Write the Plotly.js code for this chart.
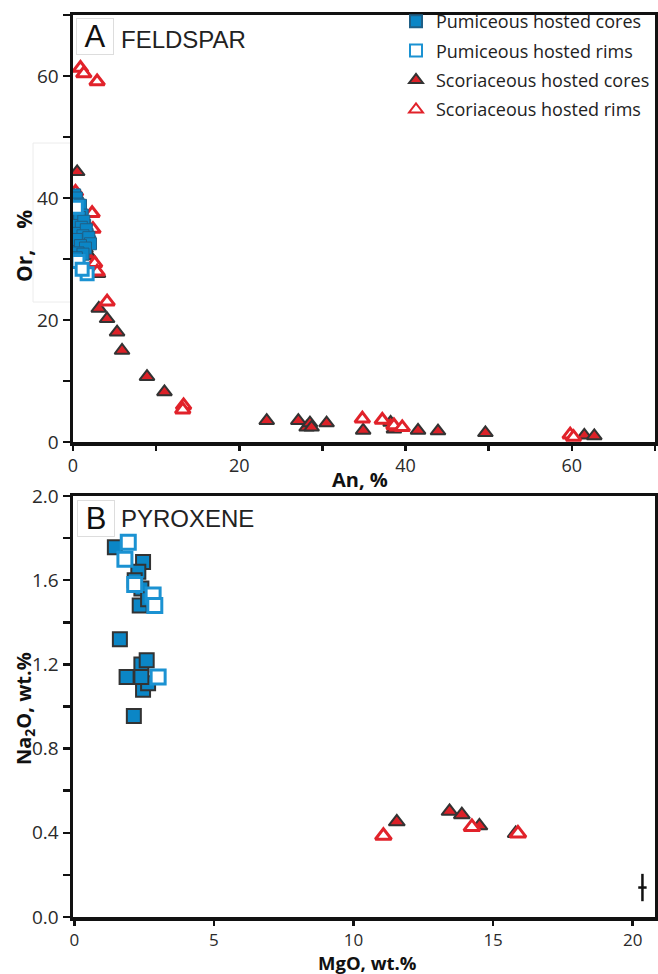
<!DOCTYPE html>
<html>
<head>
<meta charset="utf-8">
<script src="https://cdn.plot.ly/plotly-3.0.1.min.js"></script>
<style>html,body{margin:0;padding:0;background:#fff;}#chart{width:658px;height:974px;}</style>
</head>
<body>
<div id="chart"></div>
<script>
// ---------- Panel A: FELDSPAR (An %, Or %) ----------
const fspPumCoresAn = [0.3, 0.5, 0.7, 0.4, 0.9, 0.6, 1.2, 0.8, 1.5, 1.0, 0.5, 0.7, 1.7, 1.4, 0.3, 1.1, 2.0, 1.8,
  0.2, 0.4, 0.6, 0.3, 0.9, 0.5, 1.1, 0.8, 0.3, 1.3, 1.0, 0.6, 1.6, 1.2, 0.4, 1.9, 2.1, 0.9, 1.5, 0.6, 1.2, 0.4];
const fspPumCoresOr = [39.5, 38.5, 37.8, 36.5, 36.0, 35.0, 34.5, 33.5, 33.0, 32.5, 31.5, 30.5, 34.0, 35.5, 37.0, 31.0, 32.8, 33.6,
  40.5, 40.0, 39.0, 38.0, 38.8, 37.3, 37.2, 36.8, 35.5, 36.2, 35.2, 34.2, 34.8, 33.8, 33.2, 33.5, 32.5, 32.2, 31.8, 31.0, 30.8, 30.2];
const fspPumRimsAn = [0.6, 1.7, 1.1, 0.4];
const fspPumRimsOr = [29.6, 27.6, 28.3, 38.5];
const fspScoCoresAn = [0.5, 0.3, 0.8, 1.2, 1.5, 2.0, 3.0, 3.1, 4.1, 5.3, 5.9, 8.9, 11.0, 23.3, 27.1, 28.1, 28.5, 28.7, 30.5, 34.9, 38.2, 38.6, 41.5, 43.9, 49.6, 61.5, 62.7];
const fspScoCoresOr = [44.3, 40.5, 38.0, 36.0, 31.7, 30.5, 27.6, 21.9, 20.2, 18.0, 15.0, 10.7, 8.2, 3.5, 3.5, 2.4, 3.1, 2.4, 3.1, 1.9, 3.2, 2.1, 1.9, 1.8, 1.5, 1.1, 1.0];
const fspScoRimsAn = [0.9, 1.3, 2.9, 2.3, 2.4, 2.6, 2.9, 4.1, 13.3, 13.2, 34.8, 37.2, 38.6, 39.6, 59.8, 60.2, 0.3];
const fspScoRimsOr = [61.3, 60.4, 59.1, 37.5, 34.9, 29.3, 27.9, 23.0, 6.0, 5.3, 3.8, 3.6, 2.7, 2.4, 1.2, 0.8, 41.0];

// ---------- Panel B: PYROXENE (MgO wt.%, Na2O wt.%) ----------
const pxPumCoresMgO = [1.45, 1.63, 1.87, 2.13, 2.40, 2.59, 2.46, 2.64, 2.40, 2.46, 2.29, 2.40, 2.34, 2.64, 2.16];
const pxPumCoresNa2O = [1.757, 1.32, 1.14, 0.955, 1.20, 1.22, 1.08, 1.11, 1.14, 1.686, 1.64, 1.56, 1.48, 1.51, 1.60];
const pxPumRimsMgO = [1.93, 1.81, 2.16, 2.82, 2.88, 3.0];
const pxPumRimsNa2O = [1.78, 1.70, 1.58, 1.53, 1.48, 1.14];
const pxScoCoresMgO = [11.55, 13.44, 13.88, 14.51, 15.81];
const pxScoCoresNa2O = [0.452, 0.502, 0.486, 0.433, 0.397];
const pxScoRimsMgO = [11.07, 14.24, 15.89];
const pxScoRimsNa2O = [0.386, 0.428, 0.397];
// representative analytical error
const errMgO = [20.35], errNa2O = [0.14], errMgOSize = [0.15], errNa2OSize = [0.065];

// ---------- tick labels ----------
const fspTickVals = [0, 10, 20, 30, 40, 50, 60, 70];
const fspTickText = ['0', '', '20', '', '40', '', '60', ''];
const naTickVals = [0, 0.2, 0.4, 0.6, 0.8, 1.0, 1.2, 1.4, 1.6, 1.8, 2.0];
const naTickText = ['0.0', '', '0.4', '', '0.8', '', '1.2', '', '1.6', '', '2.0'];
const mgTickVals = [0, 5, 10, 15, 20];
const mgTickText = ['0', '5', '10', '15', '20'];

const seriesNames = ['Pumiceous hosted cores', 'Pumiceous hosted rims', 'Scoriaceous hosted cores', 'Scoriaceous hosted rims'];

const BLUE = '#0b86c6', BLUE_RIM = '#1b92d2', RED = '#dc2128', RED_RIM = '#e1222a', DARK = '#333333';
const styles = {
  pc: {symbol: 'square', color: BLUE, line: {color: DARK, width: 2}},
  pr: {symbol: 'square', color: '#ffffff', line: {color: BLUE_RIM, width: 3}},
  sc: {symbol: 'triangle-up', color: RED, line: {color: DARK, width: 2}},
  sr: {symbol: 'triangle-up', color: '#ffffff', line: {color: RED_RIM, width: 3}}
};
function tr(x, y, key, name, rank, xa, ya, size, legend, lineOverride) {
  const s = styles[key];
  return {
    x: x, y: y, type: 'scatter', mode: 'markers', name: name, legendgroup: key,
    legendrank: rank, showlegend: legend, xaxis: xa, yaxis: ya, hoverinfo: 'x+y',
    marker: {symbol: s.symbol, size: size, color: s.color, line: lineOverride || s.line}
  };
}

const data = [
  tr(fspScoCoresAn, fspScoCoresOr, 'sc', seriesNames[2], 3, 'x', 'y', 13, true),
  tr(fspScoRimsAn, fspScoRimsOr, 'sr', seriesNames[3], 4, 'x', 'y', 13, true),
  tr(fspPumCoresAn, fspPumCoresOr, 'pc', seriesNames[0], 1, 'x', 'y', 12, true, {color: '#1f5f86', width: 1}),
  tr(fspPumRimsAn, fspPumRimsOr, 'pr', seriesNames[1], 2, 'x', 'y', 12, true),
  tr(pxScoCoresMgO, pxScoCoresNa2O, 'sc', seriesNames[2], 3, 'x2', 'y2', 14, false),
  tr(pxScoRimsMgO, pxScoRimsNa2O, 'sr', seriesNames[3], 4, 'x2', 'y2', 14, false),
  tr(pxPumCoresMgO, pxPumCoresNa2O, 'pc', seriesNames[0], 1, 'x2', 'y2', 14, false),
  tr(pxPumRimsMgO, pxPumRimsNa2O, 'pr', seriesNames[1], 2, 'x2', 'y2', 14, false),
  {
    x: errMgO, y: errNa2O, type: 'scatter', mode: 'markers', showlegend: false, hoverinfo: 'skip',
    xaxis: 'x2', yaxis: 'y2', marker: {size: 1, color: 'rgba(0,0,0,0)'},
    error_x: {type: 'data', array: errMgOSize, width: 0, thickness: 2.5, color: '#111'},
    error_y: {type: 'data', array: errNa2OSize, width: 0, thickness: 2.5, color: '#111'}
  }
];

const tickFont = {family: 'Open Sans, sans-serif', size: 19, color: '#2a2a2a'};
const xTickFont = {family: 'Open Sans, sans-serif', size: 18, color: '#2a2a2a'};
const x2TickFont = {family: 'Open Sans, sans-serif', size: 17, color: '#2a2a2a'};
const titleFont = {family: 'Open Sans, sans-serif', size: 20, color: '#111', weight: 'bold'};
function axis(extra) {
  return Object.assign({
    showgrid: false, zeroline: false, showline: true, linecolor: '#111', linewidth: 3.5,
    mirror: true, ticks: 'outside', ticklen: 7, tickwidth: 2.5, tickcolor: '#111',
    tickmode: 'array', tickfont: tickFont, automargin: false, fixedrange: true
  }, extra);
}
// pixel -> paper helpers (plot area: x 73..655, y 15..917)
function px2x(p) { return (p - 73) / 582; }
function px2y(p) { return (917 - p) / 902; }
function axTitle(text, xp, yp, angle, size) {
  return {text: text, xref: 'paper', yref: 'paper', x: px2x(xp), y: px2y(yp), xanchor: 'center', yanchor: 'middle',
    showarrow: false, textangle: angle, font: Object.assign({}, titleFont, {size: size || 20})};
}

const layout = {
  width: 658, height: 974,
  margin: {l: 73, r: 3, t: 15, b: 57},
  paper_bgcolor: '#ffffff', plot_bgcolor: '#ffffff',
  font: {family: 'Open Sans, sans-serif', color: '#222'},
  showlegend: true,
  legend: {
    x: 1, xanchor: 'right', y: px2y(3), yanchor: 'top', bgcolor: 'rgba(0,0,0,0)',
    font: {family: 'Open Sans, sans-serif', size: 18, color: '#222'},
    itemsizing: 'constant', traceorder: 'grouped', tracegroupgap: 3, borderwidth: 0
  },
  xaxis: axis({domain: [0, 1], anchor: 'y', range: [0, 70], tickvals: fspTickVals, ticktext: fspTickText, tickfont: xTickFont, ticklen: 5}),
  yaxis: axis({domain: [px2y(442), 1], anchor: 'x', range: [0, 70], tickvals: fspTickVals, ticktext: fspTickText}),
  xaxis2: axis({domain: [0, 1], anchor: 'y2', range: [-0.05, 20.8], tickvals: mgTickVals, ticktext: mgTickText, tickfont: x2TickFont, ticklen: 5}),
  yaxis2: axis({domain: [0, px2y(496)], anchor: 'x2', range: [0, 2.0], tickvals: naTickVals, ticktext: naTickText}),
  shapes: [
    {type: 'rect', xref: 'paper', yref: 'paper', x0: px2x(33), x1: px2x(70.5), y0: px2y(302), y1: px2y(143),
      line: {color: '#ececec', width: 1}, layer: 'below'}
  ],
  annotations: [
    axTitle('Or,\u2002\u2002%', 24, 246, -90, 21),
    axTitle('An, %', 360, 479, 0),
    axTitle('Na<sub>2</sub>O, wt.%', 24, 708, -90),
    axTitle('MgO, wt.%', 367, 962.5, 0, 18.5),
    {text: 'A', xref: 'paper', yref: 'paper', x: px2x(95), y: px2y(36.5), xanchor: 'center', yanchor: 'middle',
      showarrow: false, width: 36, height: 35, bordercolor: '#dddddd', borderwidth: 1, borderpad: 0,
      font: {family: 'Liberation Sans, Arial, sans-serif', size: 31, color: '#111'}},
    {text: 'FELDSPAR', xref: 'paper', yref: 'paper', x: px2x(119), y: px2y(39), xanchor: 'left', yanchor: 'middle',
      showarrow: false, font: {family: 'Liberation Sans, Arial, sans-serif', size: 24, color: '#222'}},
    {text: 'B', xref: 'paper', yref: 'paper', x: px2x(96), y: px2y(518.5), xanchor: 'center', yanchor: 'middle',
      showarrow: false, width: 36, height: 35, bordercolor: '#dddddd', borderwidth: 1, borderpad: 0,
      font: {family: 'Liberation Sans, Arial, sans-serif', size: 31, color: '#111'}},
    {text: 'PYROXENE', xref: 'paper', yref: 'paper', x: px2x(119), y: px2y(518), xanchor: 'left', yanchor: 'middle',
      showarrow: false, font: {family: 'Liberation Sans, Arial, sans-serif', size: 24, color: '#222'}}
  ]
};

Plotly.newPlot('chart', data, layout, {displayModeBar: false, staticPlot: true});
</script>
</body>
</html>
